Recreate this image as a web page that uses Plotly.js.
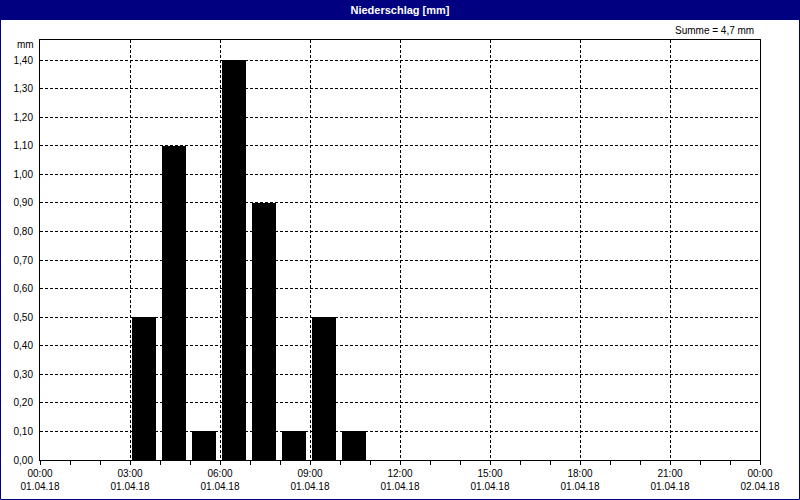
<!DOCTYPE html>
<html>
<head>
<meta charset="utf-8">
<script src="https://cdn.plot.ly/plotly-3.0.1.min.js"></script>
<style>html,body{margin:0;padding:0;background:#fff;} #chart{width:800px;height:500px;}</style>
</head>
<body>
<div id="chart"></div>
<script>
// Hourly precipitation, 01.04.18
const hours = ['2018-04-01 03:00','2018-04-01 04:00','2018-04-01 05:00','2018-04-01 06:00',
               '2018-04-01 07:00','2018-04-01 08:00','2018-04-01 09:00','2018-04-01 10:00'];
const values = [0.5, 1.1, 0.1, 1.4, 0.9, 0.1, 0.5, 0.1];
const titleText = 'Niederschlag [mm]';
const unitLabel = 'mm';

const total = values.reduce((a, b) => a + b, 0);
const sumText = 'Summe = ' + total.toFixed(1).replace('.', ',') + ' mm';

const W = 720, H = 420; // plot area in px
const px = v => v / W, py = v => v / H;
const FONT = 'Liberation Sans, Arial, sans-serif';

const trace = {
  type: 'bar',
  x: hours,
  y: values,
  offset: 4 * 60 * 1000,
  width: 48 * 60 * 1000,
  marker: {color: '#000000', line: {width: 0}},
  hoverinfo: 'x+y'
};

const layout = {
  width: 800, height: 500,
  margin: {l: 40, r: 40, t: 40, b: 40, pad: 0},
  paper_bgcolor: '#ffffff',
  plot_bgcolor: '#ffffff',
  separators: ',.',
  showlegend: false,
  bargap: 0,
  font: {family: FONT, size: 10, color: '#000000'},
  title: {
    text: '<b>' + titleText + '</b>',
    font: {family: FONT, size: 11, color: '#ffffff'},
    x: 0.5, xanchor: 'center', xref: 'paper',
    y: 1 - 10.5 / 500, yref: 'container', yanchor: 'middle'
  },
  xaxis: {
    type: 'date',
    range: ['2018-04-01 00:00', '2018-04-02 00:00'],
    tick0: '2018-04-01 00:00',
    dtick: 3 * 3600 * 1000,
    tickformat: '%H:%M<br>%d.%m.%y',
    ticks: 'outside', ticklen: 4, tickcolor: '#000', tickwidth: 1,
    minor: {dtick: 3600 * 1000, ticks: 'outside', ticklen: 4, tickcolor: '#000', showgrid: false},
    showgrid: true, gridcolor: '#000000', griddash: '3px,2px', gridwidth: 1,
    showline: true, linecolor: '#000000', linewidth: 1, mirror: true,
    zeroline: false,
    tickfont: {family: FONT, size: 10, color: '#000'},
    fixedrange: true
  },
  yaxis: {
    range: [0, 1.47],
    tick0: 0, dtick: 0.1,
    tickformat: '.2f',
    ticks: '',
    ticklabelstandoff: 4,
    showgrid: true, gridcolor: '#000000', griddash: '3px,2px', gridwidth: 1,
    showline: true, linecolor: '#000000', linewidth: 1, mirror: true,
    zeroline: false,
    tickfont: {family: FONT, size: 10, color: '#000'},
    fixedrange: true
  },
  shapes: [
    // title bar
    {type: 'rect', xref: 'paper', yref: 'paper', layer: 'below',
     x0: px(-40), x1: 1 + px(40), y0: 1 + py(40 - 20), y1: 1 + py(40),
     fillcolor: '#000080', line: {width: 0}},
    // outer frame
    {type: 'rect', xref: 'paper', yref: 'paper', layer: 'above',
     x0: px(-39.5), x1: 1 + px(39.5), y0: py(-39.5), y1: 1 + py(39.5),
     fillcolor: 'rgba(0,0,0,0)', line: {color: '#000080', width: 1}}
  ],
  annotations: [
    {text: unitLabel, xref: 'paper', yref: 'paper', x: px(-4), y: 1 + py(-5),
     xanchor: 'right', yanchor: 'middle', showarrow: false,
     font: {family: FONT, size: 10, color: '#000'}},
    {text: sumText, xref: 'paper', yref: 'paper', x: 1 + px(-4), y: 1 + py(10),
     xanchor: 'right', yanchor: 'middle', showarrow: false,
     font: {family: FONT, size: 10, color: '#000'}}
  ]
};

Plotly.newPlot('chart', [trace], layout, {displayModeBar: false, staticPlot: true});
</script>
</body>
</html>
